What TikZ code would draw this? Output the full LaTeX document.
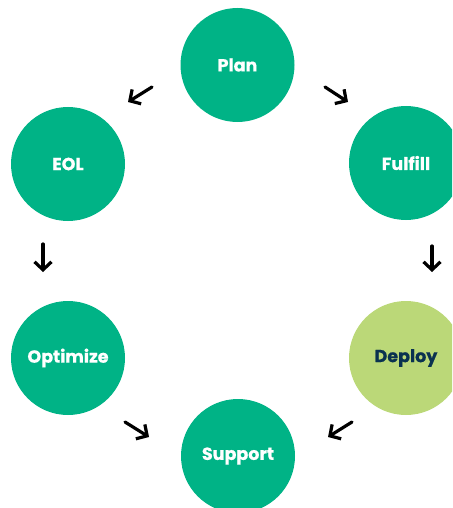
\documentclass[tikz,border=0pt]{standalone}
\usepackage{fontspec}
\setmainfont{Poppins}[BoldFont={* Bold}]
\newfontfamily\stagefont{Poppins}[UprightFont={* Bold}, FakeBold=0.6]
\usetikzlibrary{arrows.meta}
\definecolor{stagegreen}{RGB}{0,179,134}
\definecolor{stagelime}{RGB}{187,216,120}
\definecolor{stagenavy}{RGB}{10,50,80}
\tikzset{
  stage/.style={circle, fill=stagegreen, minimum size=114pt, inner sep=0pt,
    text=white, font=\stagefont\fontsize{17.5}{20}\selectfont},
  stagelight/.style={stage, fill=stagelime, text=stagenavy},
  flow/.style={line width=3.2pt, line cap=round, line join=round,
    -{Straight Barb[length=8pt, width=17pt, line width=3.2pt]}}
}
\begin{document}
\begin{tikzpicture}[x=1pt, y=-1pt]
  \useasboundingbox (0,0) rectangle (452,508);
  \clip (0,0) rectangle (452,508);

  % lifecycle stages
  \node[stage] (plan) at (237.5,65) {Plan};
  \node[stage] (eol) at (68,164) {EOL};
  \node[stage] (fulfill) at (406,163) {Fulfill};
  \node[stagelight] (deploy) at (406,358) {Deploy};
  \node[stage] (optimize) at (68,358) {Optimize};
  \node[stage] (support) at (238,456) {Support};

  % arrow end points between the stages
  \coordinate (a1s) at (152,87);  \coordinate (a1e) at (128,102);
  \coordinate (a2s) at (325,87);  \coordinate (a2e) at (348,102);
  \coordinate (a3s) at (43,244);  \coordinate (a3e) at (43,272);
  \coordinate (a4s) at (432,246); \coordinate (a4e) at (432,272);
  \coordinate (a5s) at (125,422); \coordinate (a5e) at (149,437);
  \coordinate (a6s) at (352,422); \coordinate (a6e) at (328,437);

  \draw[flow] (a1s) -- (a1e);
  \draw[flow] (a2s) -- (a2e);
  \draw[flow] (a3s) -- (a3e);
  \draw[flow] (a4s) -- (a4e);
  \draw[flow] (a5s) -- (a5e);
  \draw[flow] (a6s) -- (a6e);
\end{tikzpicture}
\end{document}
